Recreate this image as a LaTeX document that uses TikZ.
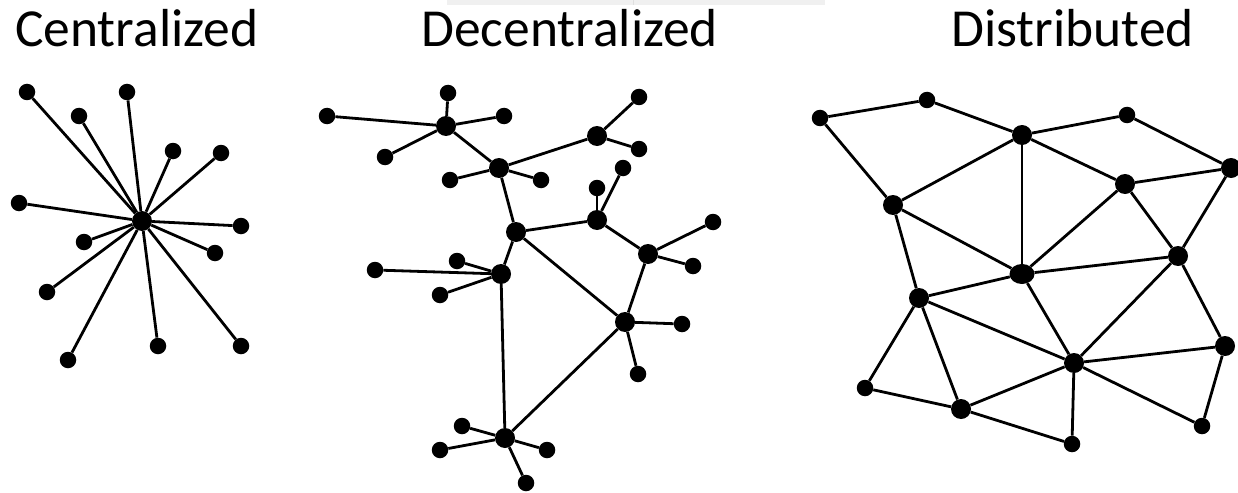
\documentclass[tikz,border=0pt]{standalone}
\usepackage{fontspec}
\setmainfont{Carlito}
\usetikzlibrary{shapes.geometric}
\begin{document}
\begin{tikzpicture}[x=1pt,y=-1pt,
  dot/.style={circle,fill=black,inner sep=0pt,minimum size=16.5pt},
  hub/.style={circle,fill=black,inner sep=0pt,minimum size=20pt},
  bighub/.style={ellipse,fill=black,inner sep=0pt,minimum width=25pt,minimum height=20pt},
  link/.style={line width=2.8pt,black},
  title/.style={anchor=base west,inner sep=0pt,font=\fontsize{53.5}{60}\selectfont}]
\useasboundingbox (0,0) rectangle (1238,492);
% faint bar at top
\fill[gray!12] (447,0) rectangle (825,5);
\draw[gray!25,line width=0.8pt] (633,0) -- (633,5);
% titles
\node[title] (t1) at (15,47) {Centralized};
\node[title] (t2) at (421,47) {Decentralized};
\node[title] (t3) at (951,47) {Distributed};

% ---------- Centralized ----------
\node[hub] (c0) at (142,221) {};
\foreach \n/\x/\y in {c1/27/92, c2/127/92, c3/79/116, c4/173/151, c5/221/153,
  c6/19/203, c7/241/226, c8/84/242, c9/215/253, c10/47/292, c11/68/360,
  c12/158/346, c13/241/346}{
  \node[dot] (\n) at (\x,\y) {};
  \draw[link] (c0) -- (\n);
}

% ---------- Decentralized ----------
\node[hub] (d1) at (446,126) {};
\node[hub] (d2) at (499,168) {};
\node[hub] (d3) at (597,136) {};
\node[hub] (d4) at (516,232) {};
\node[hub] (d5) at (597,220) {};
\node[hub] (d6) at (648,254) {};
\node[hub] (d7) at (501,274) {};
\node[hub] (d8) at (625,322) {};
\node[hub] (d9) at (505,438) {};
\foreach \a/\b in {d1/d2, d2/d3, d2/d4, d4/d5, d5/d6, d6/d8, d4/d8, d4/d7, d7/d9, d9/d8}
  \draw[link] (\a) -- (\b);
\foreach \n/\x/\y/\h in {
  e1/448/93/d1, e2/327/116/d1, e3/504/116/d1, e4/385/157/d1,
  e5/450/180/d2, e6/541/180/d2,
  e7/639/97/d3, e8/639/149/d3,
  e9/597/188/d5, e10/623/168/d5,
  e11/713/222/d6, e12/693/266/d6,
  e13/375/270/d7, e14/457/261/d7, e15/440/295/d7,
  e16/682/324/d8, e17/638/374/d8,
  e18/462/426/d9, e19/440/450/d9, e20/547/450/d9, e21/526/483/d9}{
  \node[dot] (\n) at (\x,\y) {};
  \draw[link] (\h) -- (\n);
}

% ---------- Distributed ----------
\foreach \n/\x/\y in {A/820/118, B/927/100, D/1127/115, M/865/388, O/1072/444, P/1202/426}
  \node[dot] (\n) at (\x,\y) {};
\foreach \n/\x/\y in {C/1022/135, E/1231/168, F/1125/184, G/893/205, I/1178/256,
  J/919/298, K/1074/363, L/1225/346, N/961/409}
  \node[hub] (\n) at (\x,\y) {};
\node[bighub] (H) at (1022,274) {};
\foreach \a/\b in {A/B, B/C, A/G, C/D, D/E, C/G, C/H, C/F, F/E, F/H, F/I, E/I,
  G/H, G/J, H/J, H/I, H/K, J/K, I/K, I/L, K/L, J/M, J/N, M/N, N/K, N/O, K/O, K/P, L/P}
  \draw[link] (\a) -- (\b);
\end{tikzpicture}
\end{document}
